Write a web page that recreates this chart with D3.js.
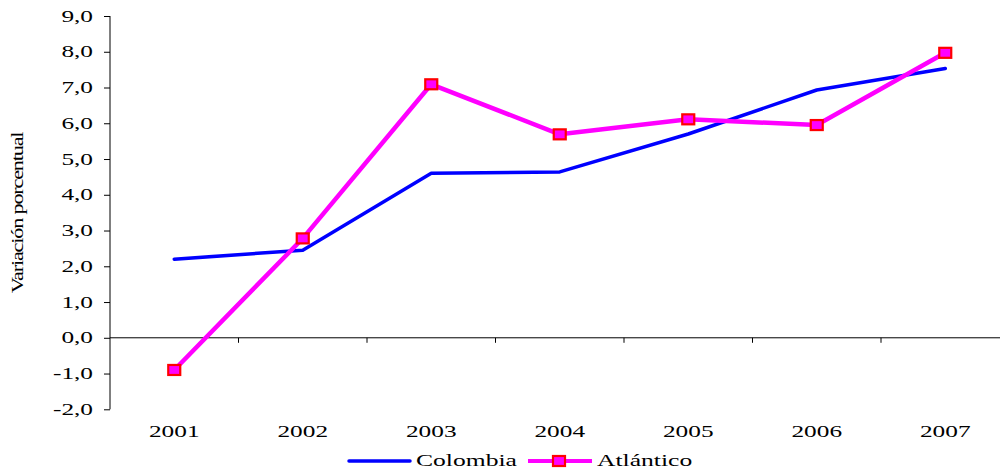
<!DOCTYPE html>
<html><head><meta charset="utf-8">
<script src="https://cdn.jsdelivr.net/npm/d3@7"></script>
<style>body{margin:0;background:#fff}svg{display:block}</style>
</head><body>
<script>
const years = ["2001","2002","2003","2004","2005","2006","2007"];
const colombia = [2.2, 2.45, 4.6, 4.64, 5.7, 6.93, 7.53];
const atlantico = [-0.9, 2.78, 7.09, 5.69, 6.11, 5.95, 7.97];
const yTicks = [-2,-1,0,1,2,3,4,5,6,7,8,9];

const W=1000,H=470;
const svg=d3.select("body").append("svg").attr("width",W).attr("height",H);
const font="Liberation Serif";
const SX=1.58;
const x=d3.scaleBand().domain(years).range([110,1009.5]);
const y=d3.scaleLinear().domain([-2,9]).range([409.3,16]);
const xc=d=>x(d)+x.bandwidth()/2;

function wtext(g,tx,ty,str,anchor,size,sx){
  return g.append("text").attr("transform",`translate(${tx},${ty}) scale(${sx},1)`)
    .attr("text-anchor",anchor).attr("font-family",font).attr("font-size",size).attr("fill","#000").text(str);
}

// y axis
const fmt=d=>d3.format(".1f")(d).replace(".",",").replace("\u2212","-");
const ya=svg.append("g").attr("transform","translate(110,0)")
 .call(d3.axisLeft(y).tickValues(yTicks).tickSize(6).tickFormat(""));
ya.selectAll("line,path").attr("stroke","#000");
ya.select(".domain").attr("d","M0,16V409.3");
const yl=svg.append("g");
yTicks.forEach(t=>wtext(yl,93,y(t)+5.5,fmt(t),"end",16,SX));

// x axis at zero
const xa=svg.append("g").attr("transform",`translate(0,${y(0)})`)
 .call(d3.axisBottom(x).tickSize(0).tickFormat(""));
xa.select(".domain").attr("stroke","#000").attr("d",`M110,0H1009.5`);
const bounds=years.map(d=>x(d)).concat([x(years[years.length-1])+x.bandwidth()]);
xa.selectAll(".bt").data(bounds.slice(1)).enter().append("line")
 .attr("x1",d=>d).attr("x2",d=>d).attr("y1",0).attr("y2",5).attr("stroke","#000");
const xl=svg.append("g");
years.forEach(d=>wtext(xl,xc(d),437,d,"middle",16,SX));

// y title
svg.append("text").attr("transform","translate(23,213) rotate(-90) scale(1.4,1)")
 .attr("text-anchor","middle").attr("font-family","Liberation Serif").attr("font-size",16)
 .attr("letter-spacing",-0.9).text("Variación porcentual");

const line=d3.line().x((d,i)=>xc(years[i])).y(d=>y(d));
svg.append("path").datum(colombia).attr("d",line).attr("fill","none")
 .attr("stroke","#0000ff").attr("stroke-width",3.5).attr("stroke-linejoin","round").attr("stroke-linecap","round");
svg.append("path").datum(atlantico).attr("d",line).attr("fill","none")
 .attr("stroke","#ff00ff").attr("stroke-width",4.5).attr("stroke-linejoin","round");
svg.append("g").selectAll("rect").data(atlantico).enter().append("rect")
 .attr("x",(d,i)=>xc(years[i])-6).attr("y",d=>y(d)-5).attr("width",12).attr("height",10)
 .attr("fill","#ff00ff").attr("stroke","#ff0000").attr("stroke-width",2.2);

// legend
const lg=svg.append("g");
lg.append("line").attr("x1",349).attr("x2",410).attr("y1",461).attr("y2",461).attr("stroke","#0000ff").attr("stroke-width",3.5).attr("stroke-linecap","round");
wtext(lg,416,466,"Colombia","start",16,1.6);
lg.append("line").attr("x1",528).attr("x2",592).attr("y1",461).attr("y2",461).attr("stroke","#ff00ff").attr("stroke-width",4);
lg.append("rect").attr("x",553).attr("y",456).attr("width",12).attr("height",10).attr("fill","#ff00ff").attr("stroke","#ff0000").attr("stroke-width",2.2);
wtext(lg,597,466,"Atlántico","start",16,1.6);
</script>
</body></html>
